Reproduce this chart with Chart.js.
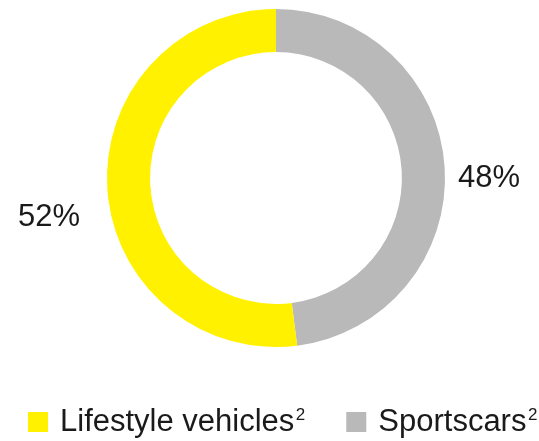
<!DOCTYPE html>
<html>
<head>
<meta charset="utf-8">
<script src="https://cdn.jsdelivr.net/npm/chart.js@4.4.1/dist/chart.umd.min.js"></script>
<style>
  html, body { margin: 0; padding: 0; background: #ffffff; }
  #wrap { width: 539px; height: 441px; position: relative; }
</style>
</head>
<body>
<div id="wrap"><canvas id="c" width="539" height="441"></canvas></div>
<script>
// Data (drawing order: clockwise from the top)
const categories = ['Sportscars', 'Lifestyle vehicles'];
const footnotes = ['2', '2'];
const shares = [48, 52];
const percentLabels = ['48%', '52%'];
const colors = ['#B9B9B9', '#FFF100'];
const legendOrder = [1, 0];

const FONT = '"Liberation Sans", Arial, sans-serif';
const TEXT = '#1a1a1a';

const percentPlugin = {
  id: 'percentLabels',
  afterDatasetsDraw(chart) {
    const ctx = chart.ctx;
    const meta = chart.getDatasetMeta(0);
    ctx.save();
    ctx.font = '31px ' + FONT;
    ctx.fillStyle = TEXT;
    ctx.textBaseline = 'alphabetic';
    meta.data.forEach((arc, i) => {
      const p = arc.getProps(['x', 'y', 'startAngle', 'endAngle', 'outerRadius'], true);
      const mid = (p.startAngle + p.endAngle) / 2;
      if (Math.cos(mid) >= 0) {
        ctx.textAlign = 'left';
        ctx.fillText(percentLabels[i], p.x + p.outerRadius + 13, p.y + 9);
      } else {
        ctx.textAlign = 'right';
        ctx.fillText(percentLabels[i], p.x - p.outerRadius - 27, p.y + 48);
      }
    });
    ctx.restore();
  }
};

const legendPlugin = {
  id: 'customLegend',
  afterDraw(chart) {
    const ctx = chart.ctx;
    const bg = chart.data.datasets[0].backgroundColor;
    const labels = chart.data.labels;
    let x = 28;
    const boxTop = 412, box = 20, baseline = 431;
    ctx.save();
    ctx.textBaseline = 'alphabetic';
    ctx.textAlign = 'left';
    legendOrder.forEach((i) => {
      ctx.fillStyle = bg[i];
      ctx.fillRect(x, boxTop, box, box);
      x += box + 12;
      ctx.fillStyle = TEXT;
      ctx.font = '31px ' + FONT;
      ctx.fillText(labels[i], x, baseline);
      x += ctx.measureText(labels[i]).width + 1.5;
      ctx.font = '17px ' + FONT;
      ctx.fillText(footnotes[i], x, baseline - 11);
      x += ctx.measureText(footnotes[i]).width + 41;
    });
    ctx.restore();
  }
};

new Chart(document.getElementById('c'), {
  type: 'doughnut',
  data: {
    labels: categories,
    datasets: [{
      data: shares,
      backgroundColor: colors,
      borderWidth: 0
    }]
  },
  options: {
    responsive: false,
    animation: false,
    cutout: '74.5%',
    layout: { padding: { top: 9, left: 13, right: 0, bottom: 94 } },
    plugins: {
      tooltip: { enabled: false },
      legend: { display: false }
    }
  },
  plugins: [percentPlugin, legendPlugin]
});
</script>
</body>
</html>
